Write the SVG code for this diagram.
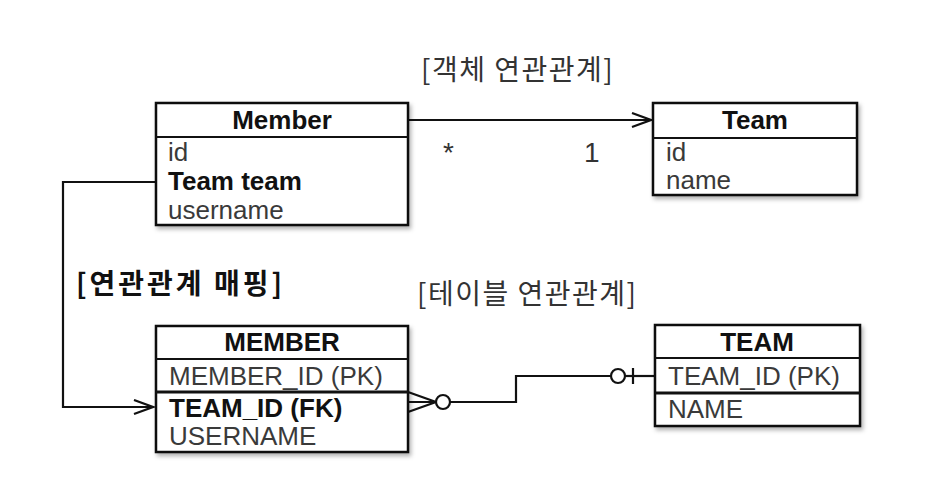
<svg xmlns="http://www.w3.org/2000/svg" width="940" height="488" viewBox="0 0 940 488">
<style>
.box{fill:#fff;stroke:#111;stroke-width:2.5;}
.div{stroke:#111;stroke-width:2;}
.thick{stroke:#111;stroke-width:3;}
.hdr{font-family:"Liberation Sans","Noto Sans CJK KR",sans-serif;font-size:26px;font-weight:bold;fill:#111;text-anchor:middle;}
.row{font-family:"Liberation Sans","Noto Sans CJK KR",sans-serif;font-size:26px;fill:#3a3a3a;}
.bold{font-weight:bold;fill:#111;}
.ttl{font-family:"Noto Sans CJK KR","Liberation Sans",sans-serif;font-size:28px;fill:#333;}
.conn{fill:none;stroke:#111;stroke-width:2.2;}
.lbl{font-family:"Liberation Sans",sans-serif;font-size:28px;fill:#333;}
</style>
<defs>
<filter id="sh" x="-10%" y="-10%" width="130%" height="140%">
<feDropShadow dx="2" dy="3" stdDeviation="2" flood-color="#000" flood-opacity="0.3"/>
</filter>
<marker id="open" markerWidth="22" markerHeight="18" refX="20" refY="8" orient="auto" markerUnits="userSpaceOnUse">
<path d="M1,1 L20,8 L1,15" fill="none" stroke="#111" stroke-width="2.2"/>
</marker>
</defs>
<rect width="940" height="488" fill="#fff"/>

<text class="ttl" x="421" y="80" letter-spacing="1.5">[객체 연관관계]</text>
<text class="ttl" x="417" y="304" letter-spacing="1.5">[테이블 연관관계]</text>
<text class="ttl" x="76" y="294" letter-spacing="3" style="font-weight:bold;fill:#111">[연관관계 매핑]</text>

<g id="connectors">
<line class="conn" x1="408" y1="120" x2="651" y2="120" marker-end="url(#open)"/>
<text class="lbl" x="443" y="162">*</text>
<text class="lbl" x="584" y="162">1</text>
<polyline class="conn" points="156,182 63,182 63,407 153,407" marker-end="url(#open)"/>
<path class="conn" d="M408,392 L436,402 L408,412 M408,402 L436,402"/>
<circle cx="443" cy="402" r="7" fill="#fff" stroke="#111" stroke-width="2.2"/>
<polyline class="conn" points="450,402 516,402 516,376 611,376"/>
<circle cx="618" cy="376" r="7" fill="#fff" stroke="#111" stroke-width="2.2"/>
<line class="conn" x1="625" y1="376" x2="655" y2="376"/>
<line class="conn" x1="633" y1="368" x2="633" y2="384"/>
</g>

<g id="Member">
<rect class="box" x="156" y="103" width="252" height="122" filter="url(#sh)"/>
<line class="div" x1="156" y1="137" x2="408" y2="137"/>
<text class="hdr" x="282" y="129">Member</text>
<text class="row" x="168" y="161">id</text>
<text class="row bold" x="168" y="190">Team team</text>
<text class="row" x="168" y="219">username</text>
</g>

<g id="Team">
<rect class="box" x="653" y="103" width="204" height="92" filter="url(#sh)"/>
<line class="div" x1="653" y1="138" x2="857" y2="138"/>
<text class="hdr" x="755" y="129">Team</text>
<text class="row" x="666" y="161">id</text>
<text class="row" x="666" y="189">name</text>
</g>

<g id="MEMBER">
<rect class="box" x="156" y="326" width="252" height="126" filter="url(#sh)"/>
<line class="div" x1="156" y1="359" x2="408" y2="359"/>
<line class="thick" x1="156" y1="392" x2="408" y2="392"/>
<text class="hdr" x="282" y="351">MEMBER</text>
<text class="row" x="169" y="385">MEMBER_ID (PK)</text>
<text class="row bold" x="169" y="417">TEAM_ID (FK)</text>
<text class="row" x="169" y="445">USERNAME</text>
</g>

<g id="TEAM">
<rect class="box" x="655" y="325" width="205" height="101" filter="url(#sh)"/>
<line class="div" x1="655" y1="358" x2="860" y2="358"/>
<line class="thick" x1="655" y1="393" x2="860" y2="393"/>
<text class="hdr" x="757" y="351">TEAM</text>
<text class="row" x="668" y="385">TEAM_ID (PK)</text>
<text class="row" x="668" y="418">NAME</text>
</g>
</svg>
